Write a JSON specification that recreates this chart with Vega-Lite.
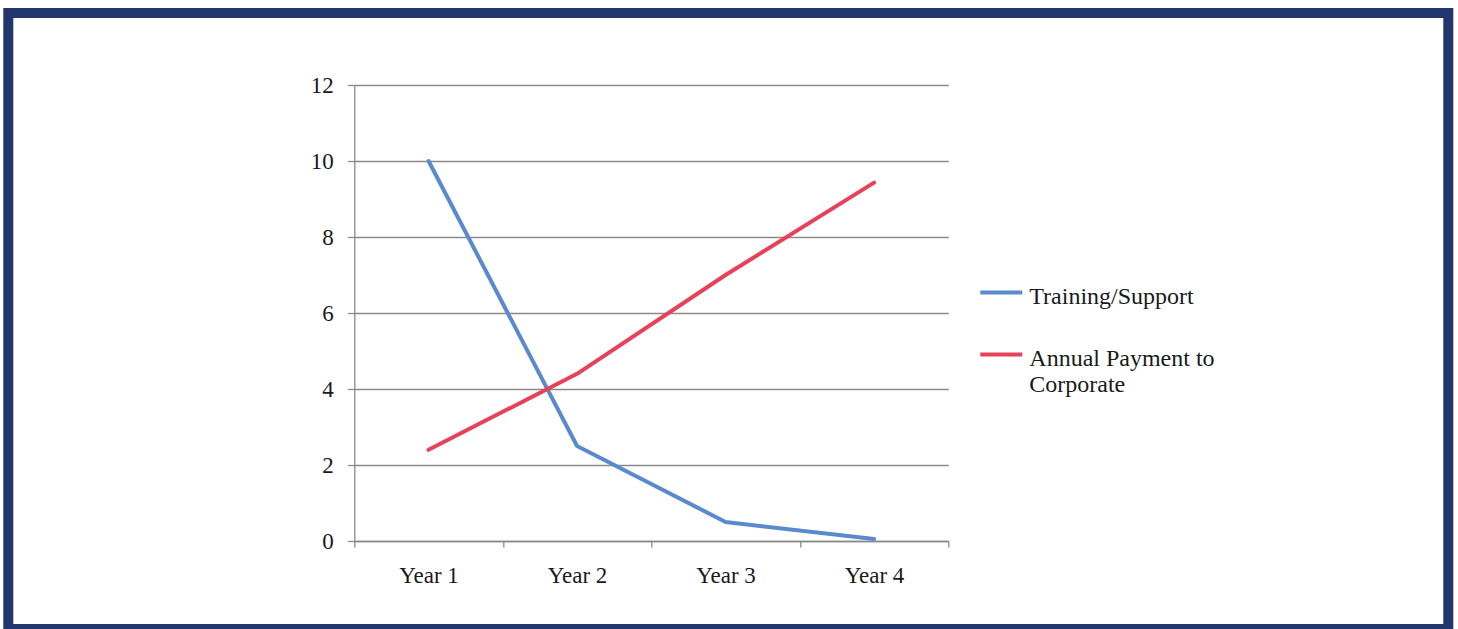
{
  "$schema": "https://vega.github.io/schema/vega-lite/v6.json",
  "width": 1440,
  "height": 616,
  "autosize": {"type": "none"},
  "padding": {"left": 8.3, "top": 13, "right": 9.7, "bottom": 0},
  "background": "white",
  "config": {
    "view": {"stroke": "#22366e", "strokeWidth": 10, "fill": "white"},
    "font": "Liberation Serif"
  },
  "data": {
    "values": [
      {"year": "Year 1", "series": "Training/Support", "value": 10.0},
      {"year": "Year 2", "series": "Training/Support", "value": 2.5},
      {"year": "Year 3", "series": "Training/Support", "value": 0.5},
      {"year": "Year 4", "series": "Training/Support", "value": 0.05},
      {"year": "Year 1", "series": "Annual Payment to Corporate", "value": 2.4},
      {"year": "Year 2", "series": "Annual Payment to Corporate", "value": 4.4},
      {"year": "Year 3", "series": "Annual Payment to Corporate", "value": 7.0},
      {"year": "Year 4", "series": "Annual Payment to Corporate", "value": 9.43}
    ]
  },
  "mark": {"type": "line", "strokeWidth": 4, "strokeCap": "round", "strokeJoin": "round"},
  "encoding": {
    "x": {
      "field": "year",
      "type": "ordinal",
      "sort": ["Year 1", "Year 2", "Year 3", "Year 4"],
      "scale": {"type": "band", "range": [346, 940], "paddingInner": 0, "paddingOuter": 0},
      "axis": {
        "title": null,
        "offset": -88,
        "labelAngle": 0,
        "tickBand": "extent",
        "tickSize": 6,
        "tickColor": "#8a8a8a",
        "domainColor": "#8a8a8a",
        "domainWidth": 1.3,
        "tickWidth": 1.3,
        "labelFont": "Liberation Serif",
        "labelFontSize": 23,
        "labelColor": "#1a1a1a",
        "labelBaseline": "alphabetic",
        "labelPadding": 35.7,
        "grid": false
      }
    },
    "y": {
      "field": "value",
      "type": "quantitative",
      "scale": {"domain": [0, 12], "range": [528, 72], "nice": false, "zero": true},
      "axis": {
        "title": null,
        "offset": -346,
        "values": [0, 2, 4, 6, 8, 10, 12],
        "tickSize": 7,
        "tickColor": "#8a8a8a",
        "domainColor": "#8a8a8a",
        "domainWidth": 1.3,
        "tickWidth": 1.3,
        "grid": true,
        "gridColor": "#8a8a8a",
        "gridWidth": 1.3,
        "labelFont": "Liberation Serif",
        "labelFontSize": 23,
        "labelColor": "#1a1a1a",
        "labelPadding": 14
      }
    },
    "color": {
      "field": "series",
      "type": "nominal",
      "scale": {
        "domain": ["Training/Support", "Annual Payment to Corporate"],
        "range": ["#5a8acd", "#e8415a"]
      },
      "legend": {
        "title": null,
        "orient": "none",
        "legendX": 970,
        "legendY": 249,
        "padding": 0,
        "symbolType": "M-1,0.36H1",
        "symbolSize": 1764,
        "symbolStrokeWidth": 4,
        "labelFont": "Liberation Serif",
        "labelFontSize": 24,
        "labelColor": "#1a1a1a",
        "labelBaseline": "top",
        "labelOffset": 5,
        "labelLimit": 400,
        "rowPadding": 15,
        "labelExpr": "datum.label == 'Annual Payment to Corporate' ? ['Annual Payment to', 'Corporate'] : datum.label"
      }
    }
  }
}
